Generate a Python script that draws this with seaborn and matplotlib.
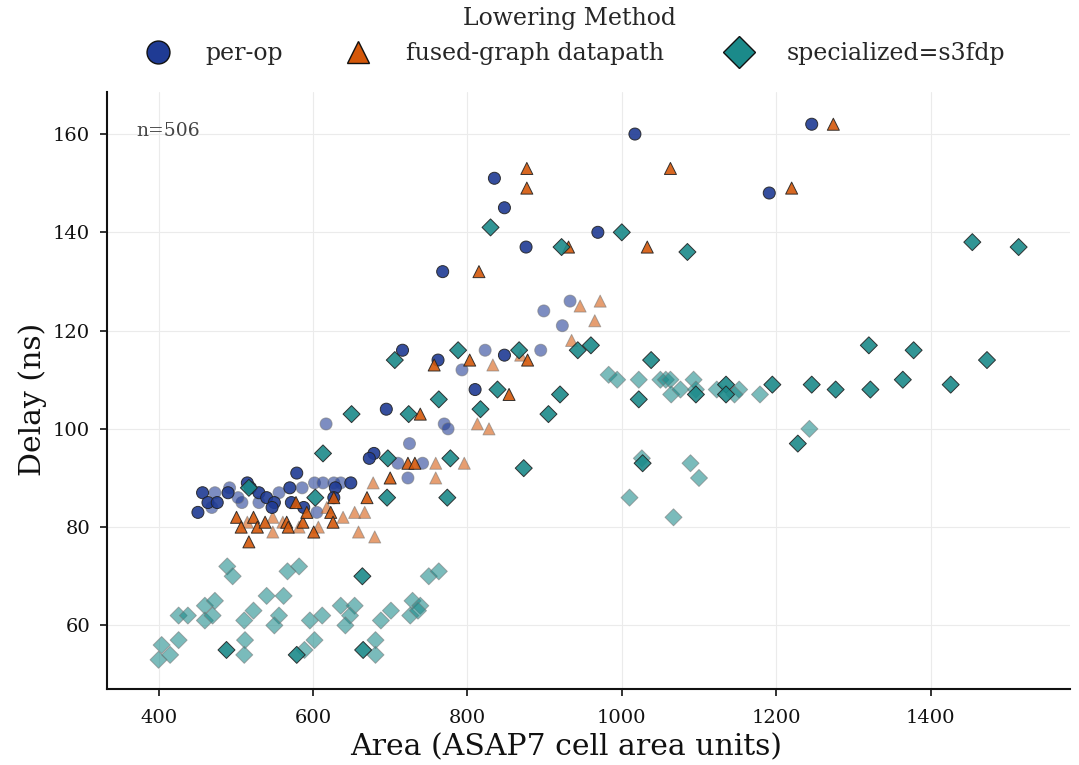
import matplotlib
matplotlib.use("Agg")
import matplotlib.pyplot as plt
import seaborn as sns
import pandas as pd
from matplotlib.lines import Line2D

methods = ["per-op", "fused-graph datapath", "specialized=s3fdp"]
colors = ["#1f3b94", "#d4580a", "#1b8a8a"]

# ---- per-op (highlighted / faded) ----
perop_hi_area = [1246, 1017, 835, 848, 876, 969, 768, 1191, 716, 762, 848, 810, 695, 679, 673, 579,
                 457, 451, 464, 476, 490, 515, 519, 530, 540, 550, 547, 570, 572, 588, 629, 649, 627]
perop_hi_delay = [162, 160, 151, 145, 137, 140, 132, 148, 116, 114, 115, 108, 104, 95, 94, 91,
                  87, 83, 85, 85, 87, 89, 88, 87, 86, 85, 84, 88, 85, 84, 88, 89, 86]
perop_lo_area = [473, 492, 469, 508, 530, 556, 586, 602, 613, 627, 605, 723, 503, 636,
                 617, 770, 775, 725, 710, 742, 823, 793, 895, 933, 899, 923]
perop_lo_delay = [87, 88, 84, 85, 85, 87, 88, 89, 89, 89, 83, 90, 86, 89,
                  101, 101, 100, 97, 93, 93, 116, 112, 116, 126, 124, 121]

# ---- fused-graph datapath ----
fused_hi_area = [1274, 1063, 877, 877, 931, 1033, 815, 1220, 757, 803, 878, 854, 739, 723, 732, 700,
                 670, 501, 523, 507, 528, 538, 566, 568, 587, 578, 592, 601, 627, 623, 626, 517]
fused_hi_delay = [162, 153, 153, 149, 137, 137, 132, 149, 113, 114, 114, 107, 103, 93, 93, 90,
                  86, 82, 82, 80, 80, 81, 81, 80, 81, 85, 83, 79, 86, 83, 81, 77]
fused_lo_area = [515, 548, 548, 561, 582, 607, 618, 639, 654, 667, 678, 659, 680, 759, 759, 796,
                 813, 828, 833, 869, 946, 972, 965, 935]
fused_lo_delay = [81, 82, 79, 81, 80, 80, 84, 82, 83, 83, 89, 79, 78, 90, 93, 93,
                  101, 100, 113, 115, 125, 126, 122, 118]

# ---- specialized=s3fdp ----
spec_hi_area = [830, 922, 1000, 1085, 1454, 1514, 706, 788, 867, 960, 943, 839, 763, 817, 920, 905,
                650, 724, 613, 697, 778, 873, 517, 603, 696, 774, 1038, 1022, 1096, 1135, 1135, 1195,
                1246, 1277, 1320, 1322, 1228, 1027, 1378, 1364, 1426, 1473, 664, 488, 579, 665]
spec_hi_delay = [141, 137, 140, 136, 138, 137, 114, 116, 116, 117, 116, 108, 106, 104, 107, 103,
                 103, 103, 95, 94, 94, 92, 88, 86, 86, 86, 114, 106, 107, 109, 107, 109,
                 109, 108, 117, 108, 97, 93, 116, 110, 109, 114, 70, 55, 54, 55]
spec_lo_area = [983, 994, 1022, 1050, 1057, 1063, 1064, 1076, 1093, 1096,
                1123, 1152, 1146, 1179, 1243, 1026, 1089, 1100, 1010, 1067,
                489, 496, 567, 582, 750, 763, 460, 473, 426, 438,
                460, 470, 540, 562, 523, 511, 556, 550, 596, 612,
                636, 654, 648, 642, 688, 701, 729, 739, 726, 736,
                404, 400, 415, 426, 512, 511, 589, 602, 681, 681]
spec_lo_delay = [111, 110, 110, 110, 110, 110, 107, 108, 110, 108,
                 108, 108, 107, 107, 100, 94, 93, 90, 86, 82,
                 72, 70, 71, 72, 70, 71, 64, 65, 62, 62,
                 61, 62, 66, 66, 63, 61, 62, 60, 61, 62,
                 64, 64, 62, 60, 61, 63, 65, 64, 62, 63,
                 56, 53, 54, 57, 57, 54, 55, 57, 57, 54]

n_label = "n=506"
x_ticks = [400, 600, 800, 1000, 1200, 1400]
y_ticks = [60, 80, 100, 120, 140, 160]


def frame(areas, delays, name):
    return pd.DataFrame({"area": areas, "delay": delays, "method": name})


df_lo = pd.concat([frame(perop_lo_area, perop_lo_delay, methods[0]),
                   frame(fused_lo_area, fused_lo_delay, methods[1]),
                   frame(spec_lo_area, spec_lo_delay, methods[2])], ignore_index=True)
df_hi = pd.concat([frame(perop_hi_area, perop_hi_delay, methods[0]),
                   frame(fused_hi_area, fused_hi_delay, methods[1]),
                   frame(spec_hi_area, spec_hi_delay, methods[2])], ignore_index=True)

sns.set_theme(style="whitegrid")
plt.rcParams["font.family"] = ["DejaVu Serif"]

palette = dict(zip(methods, colors))
markers = dict(zip(methods, ["o", "^", "D"]))

fig = plt.figure(figsize=(10.79, 7.65), dpi=100)
ax = fig.add_axes([0.099, 0.099, 0.893, 0.781])

sns.scatterplot(data=df_lo, x="area", y="delay", hue="method", style="method",
                hue_order=methods, style_order=methods, palette=palette, markers=markers,
                s=75, alpha=0.58, edgecolor="#777777", linewidth=0.7, legend=False, ax=ax)
sns.scatterplot(data=df_hi, x="area", y="delay", hue="method", style="method",
                hue_order=methods, style_order=methods, palette=palette, markers=markers,
                s=75, alpha=0.9, edgecolor="#222222", linewidth=0.7, legend=False, ax=ax)

ax.set_xlim(333, 1581)
ax.set_ylim(47, 168.6)
ax.set_xticks(x_ticks)
ax.set_yticks(y_ticks)
ax.grid(True, color="#ebebeb", linewidth=0.8)
for side in ["top", "right"]:
    ax.spines[side].set_visible(False)
for side in ["left", "bottom"]:
    ax.spines[side].set_color("#111111")
    ax.spines[side].set_linewidth(1.5)
ax.tick_params(axis="both", which="major", length=5, width=1.2, color="#111111",
               bottom=True, left=True, labelsize=14, labelcolor="#111111")
ax.tick_params(axis="x", pad=9)
ax.tick_params(axis="y", pad=7)

ax.set_xlabel("Area (ASAP7 cell area units)", fontsize=21.5, color="#111111",
              x=0.477, labelpad=5)
ax.set_ylabel("Delay (ns)", fontsize=21.5, color="#111111", y=0.485)

ax.text(0.031, 0.935, n_label, transform=ax.transAxes, ha="left", va="center",
        fontsize=13.5, color="#444444")

handles = [Line2D([], [], linestyle="none", marker=m, markersize=s, markerfacecolor=c,
                  markeredgecolor="#111111", markeredgewidth=1.0)
           for m, c, s in zip(["o", "^", "D"], colors, [16.5, 16, 16])]
leg = fig.legend(handles, methods, title="Lowering Method", loc="upper center",
                 bbox_to_anchor=(0.528, 1.018), ncol=3, frameon=False, fontsize=17,
                 title_fontsize=17, columnspacing=2.2, handletextpad=1.0)

fig.savefig("out.png", dpi=100)
